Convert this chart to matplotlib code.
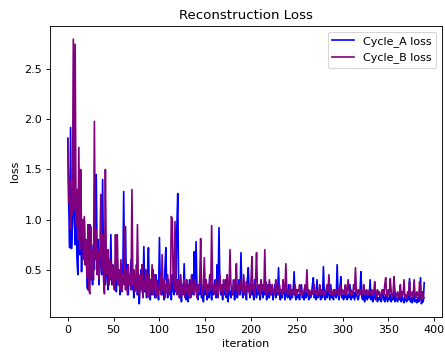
import numpy as np
import matplotlib
matplotlib.use('Agg')
import matplotlib.pyplot as plt

# loss values, one per iteration (0..389)
cycle_a_loss = [
	1.81, 1.15, 0.72, 1.92, 0.71, 0.95, 1.45, 1.05, 0.75, 1.25,
	0.60, 0.45, 1.10, 0.65, 1.00, 0.48, 0.90, 0.62, 1.00, 0.55,
	0.80, 0.32, 0.30, 0.70, 0.95, 0.40, 0.60, 0.35, 0.75, 0.50,
	0.90, 1.45, 0.55, 0.80, 0.35, 0.70, 0.60, 0.45, 1.40, 0.50,
	0.65, 0.35, 0.55, 0.48, 0.30, 0.60, 0.40, 0.85, 0.35, 0.55,
	0.40, 0.30, 0.50, 0.28, 0.60, 0.35, 0.45, 0.25, 0.55, 0.30,
	0.40, 1.28, 0.35, 0.93, 0.30, 0.55, 0.25, 0.45, 0.35, 0.60,
	0.30, 0.50, 0.22, 0.40, 0.35, 0.55, 0.25, 0.45, 0.16, 0.35,
	0.50, 0.30, 0.25, 0.73, 0.28, 0.40, 0.22, 0.45, 0.72, 0.30,
	0.20, 0.40, 0.25, 0.50, 0.30, 0.22, 0.45, 0.28, 0.35, 0.20,
	0.82, 0.30, 0.40, 0.25, 0.35, 0.20, 0.50, 0.72, 0.30, 0.22,
	0.40, 0.25, 0.35, 0.20, 0.45, 0.30, 0.25, 0.40, 0.28, 0.92,
	1.26, 0.30, 0.22, 0.40, 0.18, 0.35, 0.25, 0.56, 0.30, 0.20,
	0.35, 0.18, 0.28, 0.40, 0.22, 0.30, 0.45, 0.25, 0.68, 0.35,
	0.78, 0.30, 0.20, 0.35, 0.25, 0.40, 0.22, 0.30, 0.18, 0.35,
	0.25, 0.40, 0.20, 0.30, 0.22, 0.45, 0.28, 0.20, 0.35, 0.25,
	0.30, 0.40, 0.22, 0.55, 0.30, 0.92, 0.35, 0.25, 0.30, 0.20,
	0.35, 0.25, 0.40, 0.22, 0.30, 0.18, 0.35, 0.28, 0.22, 0.30,
	0.25, 0.40, 0.20, 0.30, 0.35, 0.22, 0.28, 0.40, 0.25, 0.67,
	0.30, 0.22, 0.35, 0.25, 0.30, 0.20, 0.40, 0.52, 0.28, 0.22,
	0.35, 0.25, 0.30, 0.20, 0.40, 0.28, 0.22, 0.35, 0.25, 0.30,
	0.20, 0.35, 0.28, 0.22, 0.30, 0.25, 0.38, 0.20, 0.30, 0.25,
	0.22, 0.35, 0.25, 0.30, 0.20, 0.28, 0.35, 0.22, 0.30, 0.25,
	0.52, 0.25, 0.20, 0.30, 0.22, 0.28, 0.35, 0.20, 0.25, 0.30,
	0.22, 0.35, 0.25, 0.20, 0.30, 0.22, 0.28, 0.48, 0.25, 0.20,
	0.30, 0.22, 0.25, 0.20, 0.28, 0.35, 0.22, 0.25, 0.20, 0.30,
	0.22, 0.25, 0.30, 0.20, 0.28, 0.22, 0.25, 0.35, 0.42, 0.22,
	0.25, 0.20, 0.40, 0.22, 0.28, 0.25, 0.20, 0.30, 0.22, 0.53,
	0.25, 0.20, 0.28, 0.22, 0.30, 0.25, 0.20, 0.35, 0.22, 0.25,
	0.20, 0.30, 0.25, 0.22, 0.55, 0.25, 0.20, 0.28, 0.43, 0.22,
	0.25, 0.20, 0.28, 0.22, 0.30, 0.20, 0.25, 0.22, 0.35, 0.20,
	0.25, 0.22, 0.28, 0.20, 0.25, 0.30, 0.22, 0.20, 0.25, 0.30,
	0.48, 0.22, 0.20, 0.25, 0.18, 0.28, 0.22, 0.20, 0.25, 0.22,
	0.40, 0.20, 0.25, 0.18, 0.22, 0.28, 0.20, 0.25, 0.18, 0.22,
	0.20, 0.25, 0.18, 0.22, 0.30, 0.20, 0.18, 0.25, 0.22, 0.18,
	0.22, 0.20, 0.25, 0.18, 0.22, 0.20, 0.28, 0.18, 0.22, 0.20,
	0.18, 0.25, 0.20, 0.22, 0.18, 0.25, 0.20, 0.17, 0.22, 0.20,
	0.18, 0.22, 0.20, 0.41, 0.18, 0.22, 0.17, 0.20, 0.25, 0.18,
	0.20, 0.17, 0.22, 0.18, 0.20, 0.42, 0.16, 0.20, 0.18, 0.37,
]

cycle_b_loss = [
	1.81, 1.17, 1.40, 0.90, 1.20, 1.05, 2.80, 1.10, 2.75, 0.95,
	1.30, 0.80, 1.72, 0.70, 1.50, 0.85, 1.00, 0.60, 1.03, 0.55,
	0.80, 0.42, 0.95, 0.30, 0.26, 0.93, 0.50, 0.70, 0.40, 1.98,
	0.60, 0.90, 0.45, 0.70, 0.40, 0.65, 1.25, 0.50, 0.85, 0.40,
	0.26, 1.50, 0.55, 0.45, 0.70, 0.35, 0.60, 0.40, 0.55, 0.35,
	0.50, 0.30, 0.85, 0.40, 0.85, 0.35, 0.50, 0.30, 0.60, 0.28,
	0.45, 0.35, 0.93, 0.30, 0.50, 0.25, 0.55, 0.35, 0.45, 0.30,
	1.30, 0.35, 0.50, 0.28, 0.45, 0.30, 0.95, 0.35, 0.25, 0.45,
	0.30, 0.55, 0.22, 0.40, 0.30, 0.50, 0.25, 0.35, 0.45, 0.22,
	0.40, 0.28, 0.55, 0.25, 0.35, 0.45, 0.22, 0.40, 0.30, 0.25,
	0.35, 0.45, 0.25, 0.65, 0.30, 0.40, 0.22, 0.35, 0.28, 0.45,
	0.25, 0.35, 0.30, 1.03, 1.00, 0.40, 0.30, 0.98, 0.35, 0.25,
	0.40, 0.30, 0.22, 0.45, 0.30, 0.25, 0.35, 0.40, 0.22, 0.30,
	0.40, 0.25, 0.35, 0.22, 0.30, 0.45, 0.28, 0.35, 0.25, 0.40,
	0.30, 0.22, 0.35, 0.28, 0.40, 0.81, 0.30, 0.25, 0.35, 0.62,
	0.30, 0.40, 0.25, 0.35, 0.28, 0.45, 0.30, 0.94, 0.40, 0.28,
	0.35, 0.25, 0.40, 0.30, 0.22, 0.35, 0.45, 0.28, 0.35, 0.25,
	0.40, 0.30, 0.35, 0.25, 0.45, 0.30, 0.28, 0.70, 0.35, 0.30,
	0.25, 0.40, 0.30, 0.35, 0.56, 0.28, 0.35, 0.25, 0.40, 0.30,
	0.35, 0.28, 0.45, 0.30, 0.25, 0.38, 0.30, 0.28, 0.35, 0.25,
	0.40, 0.63, 0.30, 0.35, 0.25, 0.40, 0.67, 0.30, 0.28, 0.35,
	0.25, 0.40, 0.30, 0.35, 0.28, 0.70, 0.30, 0.25, 0.35, 0.28,
	0.40, 0.30, 0.25, 0.35, 0.28, 0.30, 0.25, 0.40, 0.28, 0.30,
	0.25, 0.35, 0.28, 0.30, 0.25, 0.40, 0.30, 0.28, 0.56, 0.30,
	0.25, 0.30, 0.28, 0.35, 0.25, 0.30, 0.28, 0.25, 0.35, 0.28,
	0.25, 0.30, 0.28, 0.35, 0.25, 0.30, 0.28, 0.25, 0.30, 0.35,
	0.28, 0.50, 0.25, 0.30, 0.28, 0.25, 0.30, 0.28, 0.25, 0.35,
	0.28, 0.25, 0.30, 0.25, 0.28, 0.35, 0.25, 0.28, 0.30, 0.25,
	0.28, 0.25, 0.30, 0.35, 0.28, 0.45, 0.25, 0.30, 0.28, 0.25,
	0.30, 0.28, 0.25, 0.30, 0.28, 0.25, 0.30, 0.35, 0.25, 0.28,
	0.30, 0.25, 0.28, 0.35, 0.25, 0.30, 0.40, 0.28, 0.25, 0.30,
	0.28, 0.25, 0.35, 0.30, 0.52, 0.28, 0.25, 0.30, 0.28, 0.25,
	0.30, 0.28, 0.25, 0.35, 0.28, 0.25, 0.30, 0.28, 0.25, 0.30,
	0.25, 0.28, 0.30, 0.25, 0.28, 0.38, 0.25, 0.22, 0.30, 0.25,
	0.28, 0.25, 0.22, 0.30, 0.28, 0.25, 0.35, 0.42, 0.25, 0.22,
	0.30, 0.25, 0.41, 0.28, 0.22, 0.25, 0.43, 0.30, 0.22, 0.25,
	0.28, 0.22, 0.25, 0.35, 0.22, 0.28, 0.25, 0.40, 0.22, 0.25,
	0.22, 0.28, 0.25, 0.38, 0.22, 0.25, 0.28, 0.22, 0.40, 0.25,
	0.22, 0.28, 0.25, 0.22, 0.38, 0.25, 0.20, 0.28, 0.22, 0.22,
]

iteration = np.arange(len(cycle_a_loss))

fig = plt.figure(figsize=(445 / 80, 360 / 80), dpi=80)
ax = fig.add_axes([50 / 445, 43 / 360, 392 / 445, 291 / 360])
ax.plot(iteration, cycle_a_loss, c='b', label='Cycle_A loss')
ax.plot(iteration, cycle_b_loss, c='purple', label='Cycle_B loss')
ax.set_title('Reconstruction Loss')
ax.set_xlabel('iteration')
ax.set_ylabel('loss')
ax.legend(loc='upper right')
fig.savefig('out.png', dpi=80)
